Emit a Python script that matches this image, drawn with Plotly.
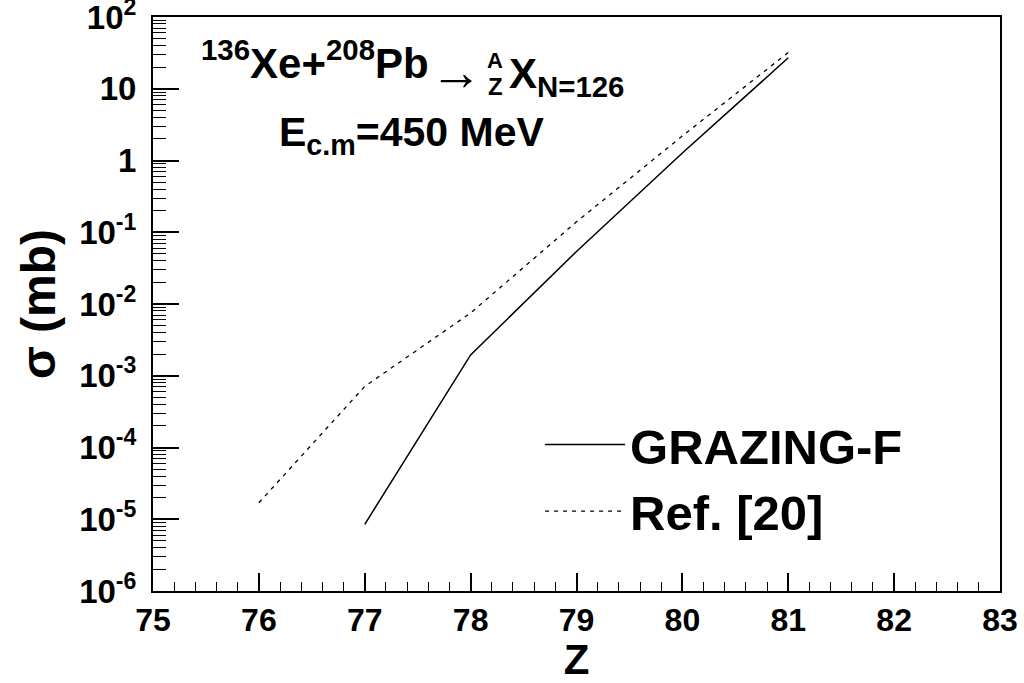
import plotly.graph_objects as go

# cross sections (mb) for N=126 isotones
z_grazing = [77, 78, 79, 80, 81]
sigma_grazing = [8.5e-6, 1.95e-3, 0.054, 1.27, 27]

z_ref = [76, 77, 78, 79, 80, 81]
sigma_ref = [1.7e-5, 7.1e-4, 7.5e-3, 0.14, 2.2, 32]

y_tickvals = [1e2, 1e1, 1e0, 1e-1, 1e-2, 1e-3, 1e-4, 1e-5, 1e-6]
y_ticktext = ["10<sup>2</sup>", "10", "1", "10<sup>-1</sup>", "10<sup>-2</sup>",
              "10<sup>-3</sup>", "10<sup>-4</sup>", "10<sup>-5</sup>", "10<sup>-6</sup>"]
x_tickvals = [75, 76, 77, 78, 79, 80, 81, 82, 83]

FONT = "Liberation Sans"

fig = go.Figure()
fig.add_trace(go.Scatter(x=z_grazing, y=sigma_grazing, mode="lines", name="GRAZING-F",
                         line=dict(color="black", width=1.5)))
fig.add_trace(go.Scatter(x=z_ref, y=sigma_ref, mode="lines", name="Ref. [20]",
                         line=dict(color="black", width=1.3, dash="4px,5px")))

fig.update_layout(
    width=1024, height=683,
    margin=dict(l=153, r=24, t=17, b=92, autoexpand=False),
    paper_bgcolor="white", plot_bgcolor="white",
    font=dict(family=FONT, color="black"),
    showlegend=True,
    legend=dict(x=0.457, y=0.322, xanchor="left", yanchor="top",
                bgcolor="rgba(0,0,0,0)", font=dict(size=49, family=FONT, weight="bold"),
                itemwidth=80, tracegroupgap=0),
)

fig.update_xaxes(
    range=[75, 83], tickvals=x_tickvals, ticks="inside", ticklen=18, tickwidth=1.5,
    tickcolor="black", showline=True, linewidth=2, linecolor="black", mirror=True,
    showgrid=False, zeroline=False, ticklabelstandoff=0, automargin=False,
    tickfont=dict(size=32, family=FONT, weight="bold"),
    minor=dict(ticks="inside", ticklen=9, tickwidth=1.2, tickcolor="black", dtick=0.2, showgrid=False),
    title=dict(text="Z", font=dict(size=42, family=FONT, weight="bold"), standoff=0),
)
fig.update_yaxes(
    type="log", range=[-6, 2.0001], tickvals=y_tickvals, ticktext=y_ticktext,
    ticks="inside", ticklen=26, tickwidth=1.5, tickcolor="black",
    showline=True, linewidth=2, linecolor="black", mirror=True,
    showgrid=False, zeroline=False, ticklabelstandoff=8, automargin=False,
    ticklabeloverflow="allow",
    tickfont=dict(size=33, family=FONT, weight="bold"),
    minor=dict(ticks="inside", ticklen=13, tickwidth=1.2, tickcolor="black", dtick="D1", showgrid=False),
    title=dict(text="σ (mb)", font=dict(size=48, family=FONT, weight="bold"), standoff=8),
)

# reaction label, built from pieces so that A sits over Z
fig.add_annotation(xref="paper", yref="paper", x=0.0543, y=0.925, xanchor="left", yanchor="middle",
                   text="<sup>136</sup>Xe+<sup>208</sup>Pb",
                   showarrow=False, font=dict(size=42, family=FONT, weight="bold"))
fig.add_annotation(xref="paper", yref="paper", x=0.3577, y=0.905, xanchor="center", yanchor="middle",
                   text="→", showarrow=False, font=dict(size=52, family=FONT))
fig.add_annotation(xref="paper", yref="paper", x=0.4038, y=0.925, xanchor="center", yanchor="middle",
                   text="A", showarrow=False, font=dict(size=22, family=FONT, weight="bold"))
fig.add_annotation(xref="paper", yref="paper", x=0.4038, y=0.879, xanchor="center", yanchor="middle",
                   text="Z", showarrow=False, font=dict(size=24, family=FONT, weight="bold"))
fig.add_annotation(xref="paper", yref="paper", x=0.418, y=0.897, xanchor="left", yanchor="middle",
                   text="X<sub>N=126</sub>",
                   showarrow=False, font=dict(size=42, family=FONT, weight="bold"))
fig.add_annotation(xref="paper", yref="paper", x=0.146, y=0.795, xanchor="left", yanchor="middle",
                   text="E<sub>c.m</sub>=450 MeV",
                   showarrow=False, font=dict(size=41, family=FONT, weight="bold"))

fig.write_html("out.html", config={"displayModeBar": False},
               post_script="document.body.style.margin='0';")
